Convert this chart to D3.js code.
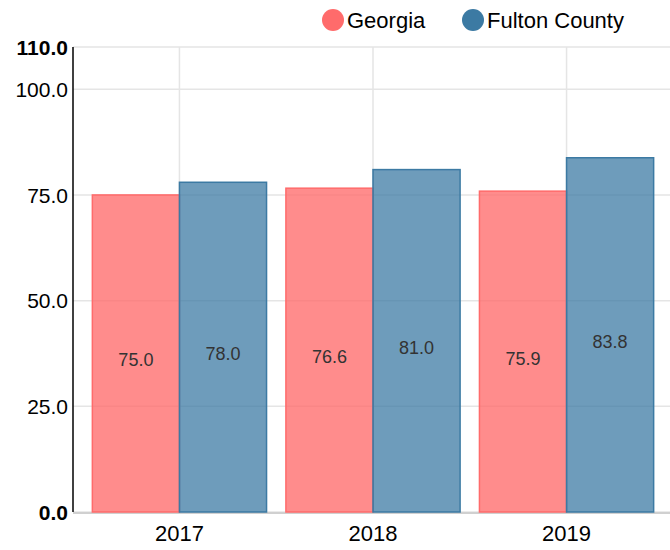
<!DOCTYPE html>
<html>
<head>
<meta charset="utf-8">
<script src="https://cdn.jsdelivr.net/npm/d3@7"></script>
<style>
  body { margin: 0; background: #fff; }
  svg { font-family: "Liberation Sans", Arial, sans-serif; }
</style>
</head>
<body>
<div id="chart"></div>
<script>
// ------ DATA ------
const years = ['2017', '2018', '2019'];
const seriesNames = ['Georgia', 'Fulton County'];
const georgiaValues = [75.0, 76.6, 75.9];
const fultonValues = [78.0, 81.0, 83.8];
const yTicks = [0, 25, 50, 75, 100, 110];
const seriesColors = ['#ff6b6b', '#3c7aa3'];

// ------ LAYOUT ------
const width = 670, height = 550;
const margin = {top: 47, right: 0, bottom: 38, left: 73};

const svg = d3.select('#chart')
  .append('svg')
    .attr('width', width)
    .attr('height', height);

// x: one band per year, then one sub band per series
const x0 = d3.scaleBand()
  .domain(years)
  .range([margin.left, 673])
  .paddingInner(0.1)
  .paddingOuter(0.1);

const x1 = d3.scaleBand()
  .domain(seriesNames)
  .range([0, x0.bandwidth()]);

const y = d3.scaleLinear()
  .domain([0, 110])
  .range([height - margin.bottom, margin.top]);

// horizontal grid
svg.append('g')
  .selectAll('line')
  .data(yTicks)
  .join('line')
    .attr('x1', margin.left)
    .attr('x2', width)
    .attr('y1', d => y(d))
    .attr('y2', d => y(d))
    .attr('stroke', '#e5e5e5')
    .attr('stroke-width', 1.5);

// vertical grid at year centres
svg.append('g')
  .selectAll('line')
  .data(years)
  .join('line')
    .attr('x1', d => x0(d) + x0.bandwidth() / 2)
    .attr('x2', d => x0(d) + x0.bandwidth() / 2)
    .attr('y1', y(110))
    .attr('y2', y(0))
    .attr('stroke', '#e5e5e5')
    .attr('stroke-width', 1.5);

// x axis line
svg.append('line')
  .attr('x1', margin.left)
  .attr('x2', width)
  .attr('y1', y(0) + 1)
  .attr('y2', y(0) + 1)
  .attr('stroke', '#d0d0d0')
  .attr('stroke-width', 2);

// bars
const rows = years.map((yr, i) => ({
  year: yr,
  values: [
    {name: seriesNames[0], value: georgiaValues[i], color: seriesColors[0]},
    {name: seriesNames[1], value: fultonValues[i], color: seriesColors[1]}
  ]
}));

const groups = svg.append('g')
  .selectAll('g')
  .data(rows)
  .join('g')
    .attr('transform', d => `translate(${x0(d.year)},0)`);

groups.selectAll('rect')
  .data(d => d.values)
  .join('rect')
    .attr('x', d => x1(d.name))
    .attr('y', d => y(d.value))
    .attr('width', x1.bandwidth())
    .attr('height', d => y(0) - y(d.value))
    .attr('fill', d => d.color)
    .attr('fill-opacity', d => d.name === 'Georgia' ? 0.78 : 0.74)
    .attr('stroke', d => d.color)
    .attr('stroke-width', 1.5);

groups.selectAll('text')
  .data(d => d.values)
  .join('text')
    .attr('x', d => x1(d.name) + x1.bandwidth() / 2)
    .attr('y', d => (y(d.value) + y(0)) / 2 + 13)
    .attr('text-anchor', 'middle')
    .attr('font-size', 18)
    .attr('fill', '#333')
    .text(d => d.value.toFixed(1));

// y axis
svg.append('line')
  .attr('x1', margin.left)
  .attr('x2', margin.left)
  .attr('y1', y(110))
  .attr('y2', y(0))
  .attr('stroke', '#000')
  .attr('stroke-width', 1.5);

svg.append('g')
  .selectAll('text')
  .data(yTicks)
  .join('text')
    .attr('x', margin.left - 5)
    .attr('y', d => y(d))
    .attr('dy', '0.36em')
    .attr('text-anchor', 'end')
    .attr('font-size', 21)
    .attr('font-weight', d => (d === 0 || d === 110) ? 'bold' : 'normal')
    .attr('fill', '#000')
    .text(d => d.toFixed(1));

// x tick labels
svg.append('g')
  .selectAll('text')
  .data(years)
  .join('text')
    .attr('x', d => x0(d) + x0.bandwidth() / 2)
    .attr('y', 541)
    .attr('text-anchor', 'middle')
    .attr('font-size', 22)
    .attr('fill', '#000')
    .text(d => d);

// legend
const legendX = [333, 473];
const legend = svg.append('g')
  .selectAll('g')
  .data(seriesNames)
  .join('g')
    .attr('transform', (d, i) => `translate(${legendX[i]},20)`);

legend.append('circle')
  .attr('r', 11)
  .attr('fill', (d, i) => seriesColors[i]);

legend.append('text')
  .attr('x', 14)
  .attr('dy', '0.36em')
  .attr('font-size', 22)
  .attr('fill', '#000')
  .text(d => d);
</script>
</body>
</html>
